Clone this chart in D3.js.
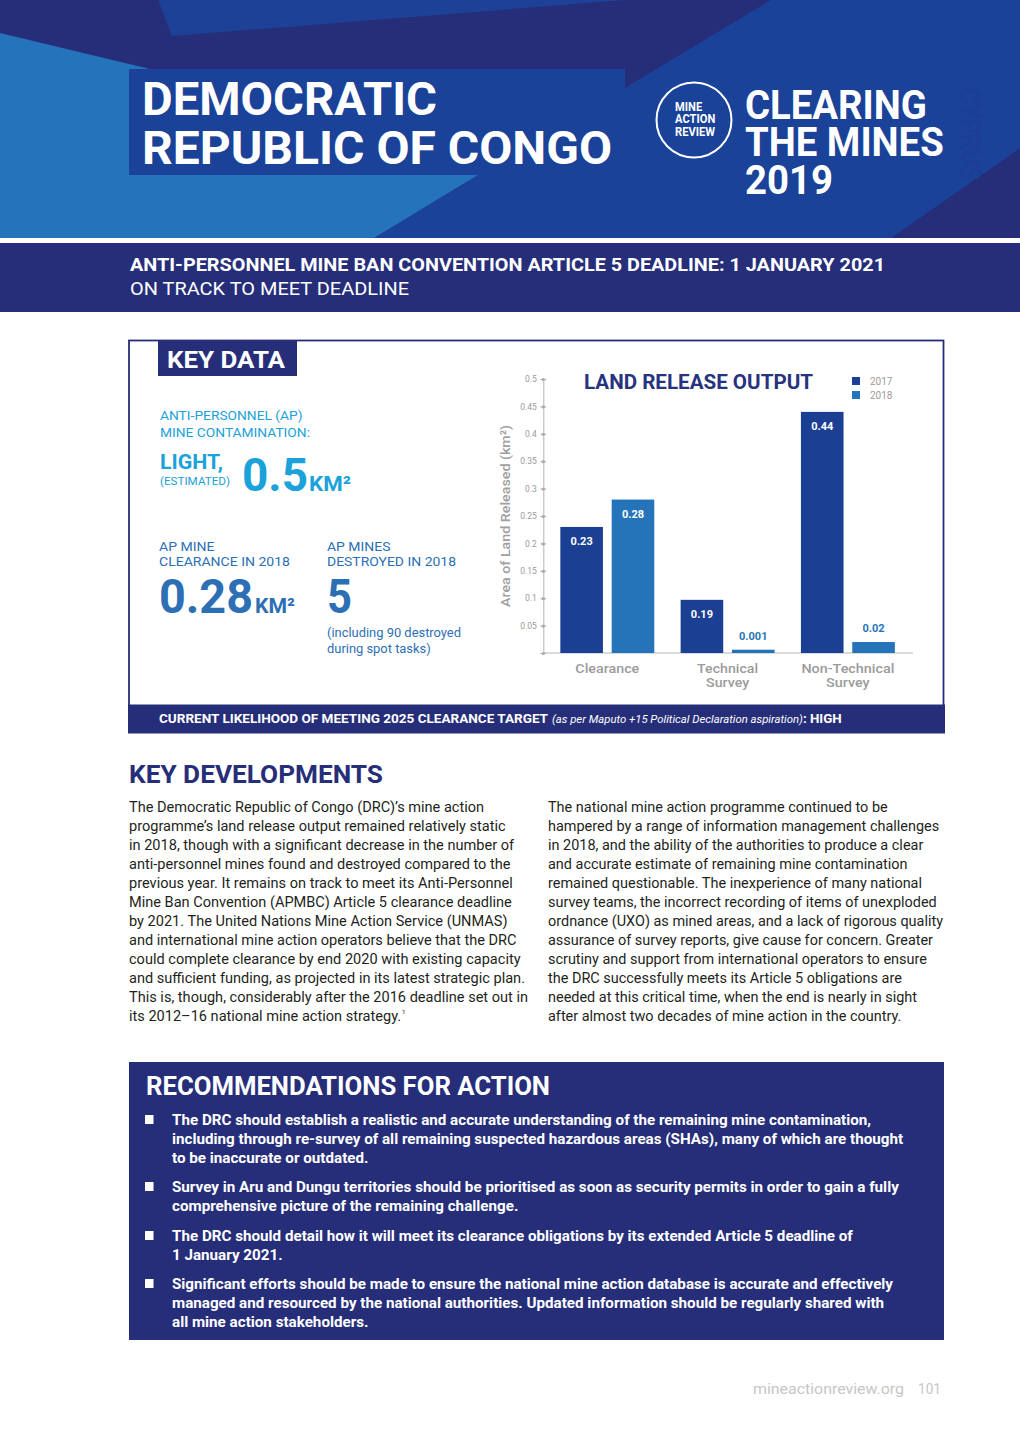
<!DOCTYPE html>
<html><head><meta charset="utf-8">
<script src="https://cdn.jsdelivr.net/npm/d3@7"></script>
<style>html,body{margin:0;padding:0;background:#fff}svg{display:block}</style>
</head><body>
<svg id="page" width="1020" height="1449"></svg>
<script>
// ---------------- DATA ----------------
const categories = ["Clearance", "Technical Survey", "Non-Technical Survey"];
const categoryLines = [["Clearance"], ["Technical", "Survey"], ["Non-Technical", "Survey"]];
const years = ["2017", "2018"];
const values2017 = [0.23, 0.097, 0.44];
const values2018 = [0.28, 0.006, 0.02];
const labels2017 = ["0.23", "0.19", "0.44"];
const labels2018 = ["0.28", "0.001", "0.02"];
const yTicks = [0, 0.05, 0.1, 0.15, 0.2, 0.25, 0.3, 0.35, 0.4, 0.45, 0.5];
const yTickLabels = ["", "0.05", "0.1", "0.15", "0.2", "0.25", "0.3", "0.35", "0.4", "0.45", "0.5"];

const leftParagraph = [
  "The Democratic Republic of Congo (DRC)\u2019s mine action",
  "programme\u2019s land release output remained relatively static",
  "in 2018, though with a significant decrease in the number of",
  "anti-personnel mines found and destroyed compared to the",
  "previous year. It remains on track to meet its Anti-Personnel",
  "Mine Ban Convention (APMBC) Article 5 clearance deadline",
  "by 2021. The United Nations Mine Action Service (UNMAS)",
  "and international mine action operators believe that the DRC",
  "could complete clearance by end 2020 with existing capacity",
  "and sufficient funding, as projected in its latest strategic plan.",
  "This is, though, considerably after the 2016 deadline set out in",
  "its 2012\u201316 national mine action strategy."
];
const rightParagraph = [
  "The national mine action programme continued to be",
  "hampered by a range of information management challenges",
  "in 2018, and the ability of the authorities to produce a clear",
  "and accurate estimate of remaining mine contamination",
  "remained questionable. The inexperience of many national",
  "survey teams, the incorrect recording of items of unexploded",
  "ordnance (UXO) as mined areas, and a lack of rigorous quality",
  "assurance of survey reports, give cause for concern. Greater",
  "scrutiny and support from international operators to ensure",
  "the DRC successfully meets its Article 5 obligations are",
  "needed at this critical time, when the end is nearly in sight",
  "after almost two decades of mine action in the country."
];
const recommendations = [
  ["The DRC should establish a realistic and accurate understanding of the remaining mine contamination,",
   "including through re-survey of all remaining suspected hazardous areas (SHAs), many of which are thought",
   "to be inaccurate or outdated."],
  ["Survey in Aru and Dungu territories should be prioritised as soon as security permits in order to gain a fully",
   "comprehensive picture of the remaining challenge."],
  ["The DRC should detail how it will meet its clearance obligations by its extended Article 5 deadline of",
   "1 January 2021."],
  ["Significant efforts should be made to ensure the national mine action database is accurate and effectively",
   "managed and resourced by the national authorities. Updated information should be regularly shared with",
   "all mine action stakeholders."]
];

// ---------------- STYLE ----------------
const FONT = "Roboto, 'Noto Sans', 'DejaVu Sans', sans-serif";
const NAVY = "#262e7a", MID = "#1a4299", LIGHT = "#2473bb";
const C2017 = "#1b3f93", C2018 = "#2574ba";
const CYAN = "#1ba2da", KBLUE = "#2c6fb4", GRAY = "#9b9b9b", BODY = "#231f20";

const svg = d3.select("#page");

function fitLines(g, lines, o) {
  const sel = g.selectAll(null).data(lines).join("text")
    .attr("x", o.x).attr("y", (d, i) => o.y + i * (o.lh || 0))
    .attr("font-family", o.family || FONT)
    .attr("font-size", o.size)
    .attr("font-weight", o.weight || 400)
    .attr("font-style", o.style || "normal")
    .attr("text-anchor", o.anchor || "start")
    .attr("fill", o.fill)
    .text(d => d);
  const nodes = sel.nodes();
  if (o.width) {
    const ratio = o.width / nodes[o.ref || 0].getComputedTextLength();
    nodes.forEach(n => {
      n.setAttribute("textLength", n.getComputedTextLength() * ratio);
      n.setAttribute("lengthAdjust", "spacingAndGlyphs");
    });
  }
  return sel;
}
const T = (g, str, o) => fitLines(g, [str], o);

// a multi-line block drawn as ONE text element, squeezed horizontally to fit a reference line
function block(g, lines, o) {
  const t = g.append("text")
    .attr("font-family", FONT).attr("font-size", o.size).attr("font-weight", o.weight || 400).attr("fill", o.fill);
  const spans = t.selectAll("tspan").data(lines).join("tspan")
    .attr("x", 0).attr("y", (d, i) => i * o.lh).text(d => d);
  const ratio = o.width / spans.nodes()[o.ref || 0].getComputedTextLength();
  t.attr("transform", `translate(${o.x},${o.y}) scale(${ratio},1)`);
  return t;
}

// ---------------- HEADER ----------------
const hdr = svg.append("g");
hdr.append("rect").attr("x", 0).attr("y", 0).attr("width", 1020).attr("height", 238).attr("fill", NAVY);
hdr.append("polygon").attr("points", "158,0 625,0 172,36").attr("fill", "#1c4196");
hdr.append("polygon").attr("points", "771,0 1020,0 1020,148 891,238 374,238 478,175 625,175 625,88").attr("fill", MID);
hdr.append("polygon").attr("points", "0,33 150,69 478,175 374,238 0,238").attr("fill", LIGHT);
hdr.append("rect").attr("x", 129).attr("y", 69).attr("width", 496).attr("height", 106).attr("fill", MID);
T(hdr, "CYPRUS", {x: 0, y: 0, size: 28, weight: 700, fill: "#1c3e94", width: 92})
  .attr("transform", "translate(961,88) rotate(90)");
T(hdr, "DEMOCRATIC", {x: 142, y: 115, size: 46, weight: 700, fill: "#fff", width: 295});
T(hdr, "REPUBLIC OF CONGO", {x: 142, y: 164, size: 46, weight: 700, fill: "#fff", width: 470});
hdr.append("circle").attr("cx", 694).attr("cy", 120).attr("r", 37.5).attr("fill", "none").attr("stroke", "#fff").attr("stroke-width", 2);
block(hdr, ["MINE", "ACTION", "REVIEW"], {x: 675, y: 111, lh: 12.5, size: 12, weight: 700, fill: "#fff", width: 40, ref: 2});
block(hdr, ["CLEARING", "THE MINES", "2019"], {x: 745, y: 119, lh: 37.5, size: 40, weight: 700, fill: "#fff", width: 182});

// deadline band
const band = svg.append("g");
band.append("rect").attr("x", 0).attr("y", 243).attr("width", 1020).attr("height", 69).attr("fill", NAVY);
T(band, "ANTI-PERSONNEL MINE BAN CONVENTION ARTICLE 5 DEADLINE: 1 JANUARY 2021", {x: 130, y: 271, size: 18, weight: 700, fill: "#fff", width: 755});
T(band, "ON TRACK TO MEET DEADLINE", {x: 130, y: 295, size: 18, weight: 400, fill: "#fff", width: 279});

// ---------------- KEY DATA BOX ----------------
const kd = svg.append("g");
kd.append("rect").attr("x", 129).attr("y", 340.5).attr("width", 814.5).attr("height", 390).attr("fill", "none").attr("stroke", NAVY).attr("stroke-width", 1.8);
kd.append("rect").attr("x", 128).attr("y", 704.5).attr("width", 817).attr("height", 29).attr("fill", NAVY);
kd.append("rect").attr("x", 158).attr("y", 340).attr("width", 139).attr("height", 36).attr("fill", NAVY);
T(kd, "KEY DATA", {x: 167, y: 368, size: 23, weight: 700, fill: "#fff", width: 118});

fitLines(kd, ["ANTI-PERSONNEL (AP)", "MINE CONTAMINATION:"], {x: 160, y: 420, lh: 17, size: 13.5, fill: CYAN, width: 150, ref: 1});
T(kd, "LIGHT,", {x: 160, y: 469, size: 20, weight: 700, fill: CYAN, width: 63});
T(kd, "(ESTIMATED)", {x: 160, y: 485, size: 11, fill: CYAN, width: 70});
T(kd, "0.5", {x: 242, y: 491, size: 47, weight: 700, fill: CYAN, width: 66});
T(kd, "KM\u00b2", {x: 309, y: 491, size: 21, weight: 700, fill: CYAN, width: 42});

fitLines(kd, ["AP MINE", "CLEARANCE IN 2018"], {x: 159, y: 551, lh: 15, size: 13.5, fill: KBLUE, width: 131, ref: 1});
T(kd, "0.28", {x: 159, y: 613, size: 49, weight: 700, fill: KBLUE, width: 94});
T(kd, "KM\u00b2", {x: 255, y: 613, size: 21, weight: 700, fill: KBLUE, width: 40});
fitLines(kd, ["AP MINES", "DESTROYED IN 2018"], {x: 327, y: 551, lh: 15, size: 13.5, fill: KBLUE, width: 129, ref: 1});
T(kd, "5", {x: 327, y: 613, size: 49, weight: 700, fill: KBLUE, width: 25});
fitLines(kd, ["(including 90 destroyed", "during spot tasks)"], {x: 327, y: 637, lh: 15.5, size: 12, fill: KBLUE, width: 134, ref: 0});

T(kd, "CURRENT LIKELIHOOD OF MEETING 2025 CLEARANCE TARGET", {x: 159, y: 723, size: 13.5, weight: 700, fill: "#fff", width: 389});
// italic aside + ": HIGH" as one text element
const tail = kd.append("text").attr("font-family", FONT).attr("fill", "#fff");
tail.append("tspan").attr("font-size", 11.5).attr("font-style", "italic").text("(as per Maputo +15 Political Declaration aspiration)");
tail.append("tspan").attr("font-size", 13.5).attr("font-weight", 700).text(": HIGH");
const tailRatio = 290 / tail.node().getComputedTextLength();
tail.attr("transform", `translate(552,723) scale(${tailRatio},1)`);

// ---------------- CHART ----------------
const chart = svg.append("g");
const y = d3.scaleLinear().domain([0, 0.5]).range([653, 379]);
const x0 = d3.scaleBand().domain(categories).range([547.1, 908.1]).paddingInner(0.219).paddingOuter(0.11);
const x1 = d3.scaleBand().domain(years).range([0, x0.bandwidth()]).paddingInner(0.17);
const axisX = 543.3;

const yAxis = chart.append("g").attr("transform", `translate(${axisX},0)`)
  .call(d3.axisLeft(y).tickValues(yTicks).tickFormat((d, i) => yTickLabels[i]).tickSizeOuter(0).tickSizeInner(3).tickPadding(4));
yAxis.select(".domain").attr("stroke", "#b5b5b5");
yAxis.selectAll(".tick line").attr("x1", -3).attr("x2", 3).attr("stroke", "#b5b5b5");
yAxis.selectAll(".tick").append("circle").attr("r", 1.6).attr("fill", "#aaa");
yAxis.selectAll(".tick text").attr("font-family", FONT).attr("font-size", 8.5).attr("fill", "#9a9a9a").attr("x", -6.5);

chart.append("line").attr("x1", axisX).attr("x2", 913).attr("y1", y(0)).attr("y2", y(0)).attr("stroke", "#b5b5b5").attr("stroke-width", 1);

const rows = categories.map((c, i) => ({
  cat: c,
  bars: [
    {year: "2017", v: values2017[i], label: labels2017[i], color: C2017},
    {year: "2018", v: values2018[i], label: labels2018[i], color: C2018}
  ]
}));
const grp = chart.selectAll(".grp").data(rows).join("g").attr("transform", d => `translate(${x0(d.cat)},0)`);
grp.selectAll("rect").data(d => d.bars).join("rect")
  .attr("x", d => x1(d.year)).attr("width", x1.bandwidth())
  .attr("y", d => y(d.v)).attr("height", d => y(0) - y(d.v)).attr("fill", d => d.color);
grp.selectAll("text.val").data(d => d.bars).join("text").attr("class", "val")
  .attr("x", d => x1(d.year) + x1.bandwidth() / 2)
  .attr("y", d => (y(0) - y(d.v) > 25) ? y(d.v) + 18 : y(d.v) - 10)
  .attr("text-anchor", "middle").attr("font-family", FONT).attr("font-weight", 700).attr("font-size", 11)
  .attr("fill", d => (y(0) - y(d.v) > 25) ? "#fff" : C2018)
  .text(d => d.label);

categories.forEach((c, i) => {
  fitLines(chart, categoryLines[i], {x: x0(c) + x0.bandwidth() / 2, y: 673, lh: 13.5, size: 13, weight: 500, fill: GRAY, anchor: "middle",
    width: i === 0 ? 64 : (i === 1 ? 61 : 93), ref: 0});
});

T(chart, "Area of Land Released (km\u00b2)", {x: 0, y: 0, size: 13.5, weight: 500, fill: "#a0a0a0", anchor: "middle", width: 182})
  .attr("transform", "translate(510,516) rotate(-90)");

T(chart, "LAND RELEASE OUTPUT", {x: 584, y: 389, size: 21, weight: 700, fill: "#27337f", width: 229});

const leg = chart.selectAll(".leg").data(years).join("g").attr("transform", (d, i) => `translate(852,${377 + i * 14})`);
leg.append("rect").attr("width", 8).attr("height", 8).attr("fill", (d, i) => i === 0 ? C2017 : C2018);
leg.append("text").attr("x", 18).attr("y", 8).attr("font-family", FONT).attr("font-size", 10).attr("fill", GRAY).text(d => d);

// ---------------- KEY DEVELOPMENTS ----------------
const dev = svg.append("g");
T(dev, "KEY DEVELOPMENTS", {x: 129, y: 783, size: 26.5, weight: 700, fill: NAVY, width: 254});
const leftSel = fitLines(dev, leftParagraph, {x: 129, y: 812, lh: 19, size: 14, fill: BODY, width: 396, ref: 9});
const lastNode = leftSel.nodes()[leftParagraph.length - 1];
const lastW = +lastNode.getAttribute("textLength");
dev.append("text").attr("x", 129 + lastW + 1).attr("y", 1014).attr("font-family", FONT).attr("font-size", 6).attr("fill", BODY).text("1");
fitLines(dev, rightParagraph, {x: 548, y: 812, lh: 19, size: 14, fill: BODY, width: 395, ref: 6});

// ---------------- RECOMMENDATIONS ----------------
const rec = svg.append("g");
rec.append("rect").attr("x", 129).attr("y", 1062).attr("width", 815).attr("height", 278).attr("fill", NAVY);
T(rec, "RECOMMENDATIONS FOR ACTION", {x: 146, y: 1095, size: 25.5, weight: 700, fill: "#fff", width: 404});
const recStarts = [1125, 1192, 1241, 1289];
const probe = T(rec, recommendations[3][0], {x: -2000, y: -100, size: 14, weight: 700, fill: "#fff"});
const recRatio = 721 / probe.node().getComputedTextLength();
probe.remove();
recommendations.forEach((lines, k) => {
  rec.append("rect").attr("x", 145).attr("y", recStarts[k] - 10).attr("width", 8.5).attr("height", 9).attr("fill", "#fff");
  const sel = fitLines(rec, lines, {x: 172, y: recStarts[k], lh: 19, size: 14, weight: 700, fill: "#fff"});
  sel.each(function () {
    this.setAttribute("textLength", this.getComputedTextLength() * recRatio);
    this.setAttribute("lengthAdjust", "spacingAndGlyphs");
  });
});

// ---------------- FOOTER ----------------
T(svg, "mineactionreview.org", {x: 753, y: 1394, size: 14, fill: "#c6c6c6", width: 151});
T(svg, "101", {x: 918, y: 1394, size: 14, fill: "#c6c6c6", width: 23});
</script>
</body></html>
